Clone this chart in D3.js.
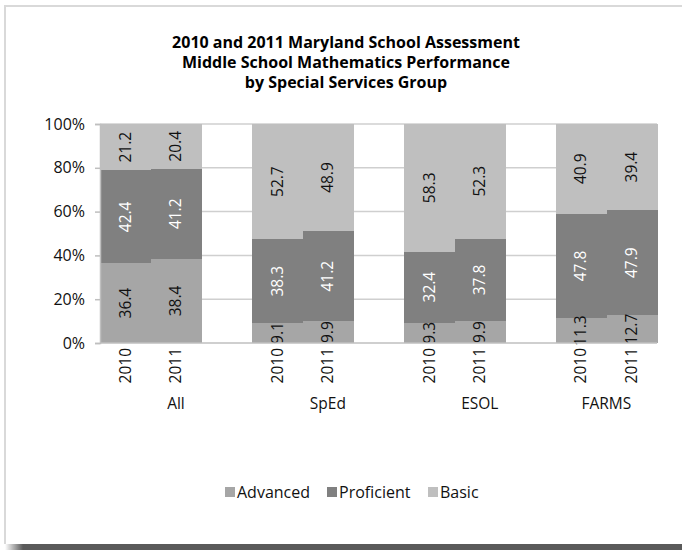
<!DOCTYPE html>
<html>
<head>
<meta charset="utf-8">
<script src="https://cdn.jsdelivr.net/npm/d3@7"></script>
<style>
  html, body { margin: 0; padding: 0; background: #fff; }
  svg { display: block; font-family: "Open Sans", sans-serif; }
</style>
</head>
<body>
<svg id="chart" width="682" height="550"></svg>
<script>
// Performance levels by special services group, 2010 vs 2011 (percent of students)
const groups = ["All", "SpEd", "ESOL", "FARMS"];
const years = ["2010", "2011"];
const seriesNames = ["Advanced", "Proficient", "Basic"];
// one value per group/year, in order: All 2010, All 2011, SpEd 2010, ...
const advanced   = [36.4, 38.4, 9.1, 9.9, 9.3, 9.9, 11.3, 12.7];
const proficient = [42.4, 41.2, 38.3, 41.2, 32.4, 37.8, 47.8, 47.9];
const basic      = [21.2, 20.4, 52.7, 48.9, 58.3, 52.3, 40.9, 39.4];
const yTicks = [0, 0.2, 0.4, 0.6, 0.8, 1.0];
const titleLines = [
  "2010 and 2011 Maryland School Assessment",
  "Middle School Mathematics Performance",
  "by Special Services Group"
];

const colors = { Advanced: "#a6a6a6", Proficient: "#808080", Basic: "#bfbfbf" };
const labelColors = { Advanced: "#111", Proficient: "#fff", Basic: "#111" };

// Build category slots: each group gets its two years, with an empty slot between groups
const slots = [];
const rows = [];
groups.forEach((g, gi) => {
  years.forEach((y, yi) => {
    const i = gi * years.length + yi;
    const key = g + "|" + y;
    slots.push({ key, group: g, year: y });
    rows.push({ key, Advanced: advanced[i], Proficient: proficient[i], Basic: basic[i] });
  });
  if (gi < groups.length - 1) slots.push({ key: "gap" + gi, group: g, year: "" });
});

const svg = d3.select("#chart");

// frame: light border on top/left, dark shadow strip at the bottom
const defs = svg.append("defs");
const grad = defs.append("linearGradient").attr("id", "shadowGrad")
  .attr("x1", "0").attr("x2", "1").attr("y1", "0").attr("y2", "0");
grad.append("stop").attr("offset", "0").attr("stop-color", "#5a5a5a").attr("stop-opacity", 0);
grad.append("stop").attr("offset", "1").attr("stop-color", "#5a5a5a").attr("stop-opacity", 1);
svg.append("rect").attr("x", 5).attr("y", 544).attr("width", 18).attr("height", 6).attr("fill", "url(#shadowGrad)");
svg.append("rect").attr("x", 23).attr("y", 544).attr("width", 659).attr("height", 6).attr("fill", "#5a5a5a");
svg.append("line").attr("x1", 5).attr("x2", 5).attr("y1", 5).attr("y2", 544)
  .attr("stroke", "#d9d9d9").attr("stroke-width", 2);
svg.append("line").attr("x1", 4).attr("x2", 682).attr("y1", 6).attr("y2", 6)
  .attr("stroke", "#d9d9d9").attr("stroke-width", 2);

// title, three lines
const title = svg.append("g").attr("text-anchor", "middle")
  .attr("font-weight", "bold").attr("font-size", 16).attr("fill", "#000");
titleLines.forEach((t, i) => {
  title.append("text").attr("x", 346).attr("y", 48 + i * 20).text(t);
});

const plot = { left: 100, right: 657, top: 124, bottom: 343 };

const x = d3.scaleBand().domain(slots.map(s => s.key))
  .range([plot.left, plot.right]).padding(0);
const y = d3.scaleLinear().domain([0, 1]).range([plot.bottom, plot.top]);

// gridlines
svg.append("g").selectAll("line").data(yTicks.filter(t => t > 0)).join("line")
  .attr("x1", plot.left).attr("x2", plot.right)
  .attr("y1", d => y(d)).attr("y2", d => y(d))
  .attr("stroke", "#cfcfcf").attr("stroke-width", 1.5);

// stacked 100% bars
const stack = d3.stack().keys(seriesNames).offset(d3.stackOffsetExpand);
const stacked = stack(rows);

const layers = svg.append("g").attr("shape-rendering", "crispEdges")
  .selectAll("g").data(stacked).join("g")
  .attr("fill", d => colors[d.key]);
layers.selectAll("rect").data(d => d).join("rect")
  .attr("x", d => x(d.data.key))
  .attr("width", x.bandwidth() + 0.5)
  .attr("y", d => y(d[1]))
  .attr("height", d => y(d[0]) - y(d[1]));

// value labels, rotated, centred in each segment
const labels = svg.append("g").attr("font-size", 15.5);
stacked.forEach(layer => {
  layer.forEach(d => {
    const cx = x(d.data.key) + x.bandwidth() / 2;
    const cy = (y(d[0]) + y(d[1])) / 2;
    labels.append("text")
      .attr("transform", `translate(${cx},${cy}) rotate(-90)`)
      .attr("text-anchor", "middle").attr("dy", "0.35em")
      .attr("fill", labelColors[layer.key])
      .text(d3.format(".1f")(d.data[layer.key]));
  });
});

// y axis
const yAxis = svg.append("g").attr("transform", `translate(${plot.left},0)`)
  .call(d3.axisLeft(y).tickValues(yTicks).tickFormat(d3.format(".0%")).tickSize(5).tickPadding(10));
yAxis.select(".domain").attr("stroke", "#bfbfbf").attr("stroke-width", 1.5);
yAxis.selectAll(".tick line").attr("stroke", "#bfbfbf").attr("stroke-width", 1.5);
yAxis.selectAll(".tick text").attr("font-size", 16).attr("fill", "#111")
  .attr("font-family", "Open Sans, sans-serif");

// x baseline
svg.append("line").attr("x1", plot.left).attr("x2", plot.right)
  .attr("y1", plot.bottom).attr("y2", plot.bottom)
  .attr("stroke", "#bfbfbf").attr("stroke-width", 1.5);

// year labels, rotated
svg.append("g").attr("font-size", 15.5).attr("fill", "#111")
  .selectAll("text").data(slots.filter(s => s.year)).join("text")
  .attr("transform", s => `translate(${x(s.key) + x.bandwidth() / 2},${plot.bottom + 5}) rotate(-90)`)
  .attr("text-anchor", "end").attr("dy", "0.35em")
  .text(s => s.year);

// group labels, centred over the span of slots each group owns
svg.append("g").attr("font-size", 15.5).attr("fill", "#111")
  .selectAll("text").data(groups).join("text")
  .attr("x", g => {
    const owned = slots.filter(s => s.group === g);
    const x0 = x(owned[0].key);
    const x1 = x(owned[owned.length - 1].key) + x.bandwidth();
    return (x0 + x1) / 2;
  })
  .attr("y", 409)
  .attr("text-anchor", "middle")
  .text(g => g);

// legend
const legend = svg.append("g").attr("font-size", 16).attr("fill", "#111");
const legendX = [225, 327, 428];
seriesNames.forEach((name, i) => {
  legend.append("rect").attr("x", legendX[i]).attr("y", 487).attr("width", 10).attr("height", 10)
    .attr("fill", colors[name]);
  legend.append("text").attr("x", legendX[i] + 12).attr("y", 497.5).text(name);
});
</script>
</body>
</html>
